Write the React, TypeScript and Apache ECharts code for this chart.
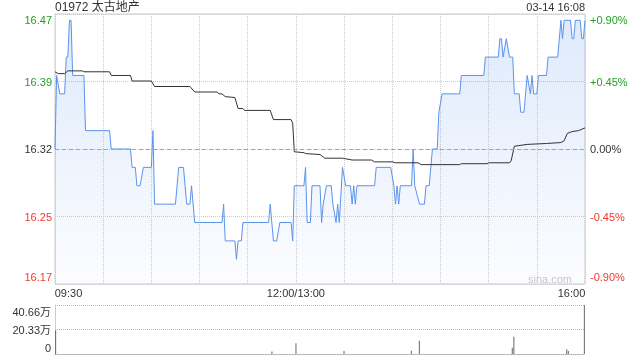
import React, { useEffect, useRef } from 'react';
import * as echarts from 'echarts';

const stockTitle = '01972 太古地产';
const stampText = '03-14 16:08';
const watermark = 'sina.com';
const prevClose = 16.32;
const xTickLabels: Record<number, string> = { 0: '09:30', 150: '12:00/13:00', 330: '16:00' };

const priceMinutes = [
  0, 1, 3, 6, 7, 8, 9, 10, 11, 18, 19, 34, 35, 47, 48, 50, 51, 53, 55, 60, 61, 62, 75, 77, 80, 82, 84, 85, 87,
  104, 105, 106, 112, 113, 114, 116, 117, 133, 134, 136, 138, 140, 147, 148, 149, 155, 156, 157, 159, 160, 165,
  166, 167, 169, 172, 173, 175, 176, 177, 179, 181, 184, 185, 186, 187, 188, 199, 200, 209, 211, 212, 213, 214,
  215, 222, 223, 224, 227, 230, 231, 233, 235, 238, 239, 241, 252, 253, 267, 268, 276, 277, 278, 279, 281, 283,
  285, 286, 289, 290, 292, 293, 294, 296, 297, 298, 300, 301, 306, 307, 313, 315, 316, 317, 321, 322, 323, 324,
  327, 328, 329, 330,
];
const prices = [
  16.32, 16.40, 16.38, 16.38, 16.42, 16.42, 16.46, 16.46, 16.40, 16.40, 16.34, 16.34, 16.32, 16.32, 16.30, 16.30,
  16.28, 16.28, 16.30, 16.30, 16.34, 16.26, 16.26, 16.30, 16.30, 16.26, 16.26, 16.28, 16.24,
  16.24, 16.26, 16.22, 16.22, 16.20, 16.22, 16.22, 16.24, 16.24, 16.26, 16.22, 16.22, 16.24, 16.24, 16.22, 16.28,
  16.28, 16.30, 16.24, 16.24, 16.28, 16.28,
  16.24, 16.26, 16.28, 16.28, 16.26, 16.24, 16.26, 16.24, 16.30, 16.28, 16.28, 16.26, 16.28, 16.26, 16.28, 16.28,
  16.30, 16.30, 16.28, 16.26, 16.28, 16.26,
  16.28, 16.28, 16.32, 16.28, 16.26, 16.26, 16.28, 16.28, 16.32, 16.32, 16.36, 16.38, 16.38, 16.40, 16.40, 16.42,
  16.42, 16.44, 16.44, 16.42, 16.44, 16.42,
  16.42, 16.38, 16.38, 16.36, 16.36, 16.38, 16.40, 16.38, 16.40, 16.38, 16.38, 16.40, 16.40, 16.42, 16.42, 16.46,
  16.44, 16.46, 16.46, 16.44, 16.44, 16.46,
  16.46, 16.44, 16.44, 16.46,
];

const avgMinutes = [
  0, 2, 6, 8, 17, 18, 34, 35, 47, 48, 60, 62, 84, 87, 101, 102, 104, 106, 112, 114, 117, 118, 134, 136, 147, 148,
  149, 155, 156, 165, 168, 179, 185, 197, 199, 210, 212, 226, 228, 252, 253, 269, 270, 283, 284, 286, 294, 306,
  315, 317, 319, 322, 326, 330,
];
const avgPrices = [
  16.404, 16.402, 16.402, 16.405, 16.405, 16.404, 16.404, 16.400, 16.400, 16.394, 16.394, 16.388, 16.388, 16.382,
  16.382, 16.380, 16.380, 16.377, 16.376, 16.364, 16.364, 16.362, 16.362, 16.352, 16.352, 16.348,
  16.317, 16.316, 16.315, 16.314, 16.310, 16.310, 16.308, 16.308, 16.306, 16.306, 16.305, 16.305, 16.303, 16.303,
  16.304, 16.304, 16.305, 16.305, 16.307, 16.323, 16.325, 16.326,
  16.327, 16.329, 16.337, 16.339, 16.340, 16.343,
];

const volMinutes = [0, 135, 150, 180, 222, 227, 285, 286, 319, 320, 330];
const volumes = [198000, 20000, 89000, 25000, 27000, 110000, 52000, 144000, 40000, 25000, 406600];
const volMax = 406600;

const FONT = '"Liberation Sans", Arial, "Noto Sans CJK SC", sans-serif';
const GREEN = '#22a022';
const RED = '#ee3b30';
const DARK = '#333333';

const pct = (p: number) => (p / prevClose - 1) * 100;

function buildRich(padTop: number, padBottom: number) {
  const colors: Record<string, string> = { g: GREEN, k: DARK, r: RED };
  const rich: Record<string, any> = {};
  Object.keys(colors).forEach((c) => {
    rich[c + 't'] = { color: colors[c], fontSize: 11, fontFamily: FONT, padding: [padTop, 0, 0, 0] };
    rich[c + 'm'] = { color: colors[c], fontSize: 11, fontFamily: FONT };
    rich[c + 'b'] = { color: colors[c], fontSize: 11, fontFamily: FONT, padding: [0, 0, padBottom, 0] };
  });
  return rich;
}

function tag(v: number, lo: number, hi: number) {
  const c = v > 1e-6 ? 'g' : v < -1e-6 ? 'r' : 'k';
  const pos = v >= hi - 1e-6 ? 't' : v <= lo + 1e-6 ? 'b' : 'm';
  return c + pos;
}

export default function App() {
  const ref = useRef<HTMLDivElement>(null);

  useEffect(() => {
    if (!ref.current) return;
    const chart = echarts.init(ref.current, undefined, { renderer: 'svg' });

    const priceData = priceMinutes.map((t, i) => [t, pct(prices[i])]);
    const avgData = avgMinutes.map((t, i) => [t, pct(avgPrices[i])]);
    const volData = volMinutes.map((t, i) => [t, volumes[i]]);

    const richY = buildRich(12, 14);
    const volRich = {
      t: { color: DARK, fontSize: 11, fontFamily: FONT, padding: [14, 0, 0, 0] },
      m: { color: DARK, fontSize: 11, fontFamily: FONT },
      b: { color: DARK, fontSize: 11, fontFamily: FONT, padding: [0, 0, 12, 0] },
    };

    chart.setOption({
      animation: false,
      textStyle: { fontFamily: FONT },
      title: [
        {
          text: stockTitle,
          left: 55,
          top: 1,
          padding: 0,
          textStyle: { fontSize: 12, fontWeight: 'normal', color: DARK, fontFamily: FONT },
        },
        {
          text: stampText,
          right: 55,
          top: 1,
          padding: 0,
          textStyle: { fontSize: 11, fontWeight: 'normal', color: DARK, fontFamily: FONT },
        },
      ],
      graphic: [
        {
          type: 'text',
          right: 68,
          top: 273,
          style: { text: watermark, fill: '#c8c8c8', font: '11px "Liberation Sans", Arial, sans-serif' },
          silent: true,
        },
      ],
      grid: [
        { left: 55, right: 55, top: 14, height: 270, show: true, borderColor: '#cccccc', borderWidth: 1 },
        { left: 55, right: 55, top: 305, height: 49 },
      ],
      xAxis: [
        {
          type: 'value',
          gridIndex: 0,
          min: 0,
          max: 330,
          interval: 30,
          axisLine: { show: false },
          axisTick: { show: false },
          splitLine: { show: true, lineStyle: { color: '#cccccc', type: 'dotted', width: 1 } },
          axisLabel: {
            margin: 3,
            color: DARK,
            fontSize: 11,
            fontFamily: FONT,
            formatter: (v: number) => {
              const s = xTickLabels[Math.round(v)];
              if (!s) return '';
              if (v < 1) return '{l|' + s + '}';
              if (v > 329) return '{r|' + s + '}';
              return '{c|' + s + '}';
            },
            rich: {
              l: { color: DARK, fontSize: 11, fontFamily: FONT, padding: [0, 0, 0, 27] },
              r: { color: DARK, fontSize: 11, fontFamily: FONT, padding: [0, 27, 0, 0] },
              c: { color: DARK, fontSize: 11, fontFamily: FONT },
            },
          },
        },
        {
          type: 'value',
          gridIndex: 1,
          min: -0.4,
          max: 330.4,
          axisLine: { show: true, lineStyle: { color: '#aaaaaa', type: 'dotted', width: 1 } },
          axisTick: { show: false },
          splitLine: { show: false },
          axisLabel: { show: false },
        },
      ],
      yAxis: [
        {
          type: 'value',
          gridIndex: 0,
          min: -0.9,
          max: 0.9,
          interval: 0.45,
          axisLine: { show: false },
          axisTick: { show: false },
          splitLine: { show: true, lineStyle: { color: '#cccccc', type: 'dotted', width: 1 } },
          axisLabel: {
            margin: 3,
            formatter: (v: number) => '{' + tag(v, -0.9, 0.9) + '|' + (prevClose * (1 + v / 100)).toFixed(2) + '}',
            rich: richY,
          },
        },
        {
          type: 'value',
          gridIndex: 0,
          position: 'right',
          min: -0.9,
          max: 0.9,
          interval: 0.45,
          axisLine: { show: false },
          axisTick: { show: false },
          splitLine: { show: false },
          axisLabel: {
            margin: 5,
            formatter: (v: number) =>
              '{' + tag(v, -0.9, 0.9) + '|' + (v > 1e-6 ? '+' : '') + (Math.abs(v) < 1e-6 ? 0 : v).toFixed(2) + '%}',
            rich: richY,
          },
        },
        {
          type: 'value',
          gridIndex: 1,
          min: 0,
          max: volMax,
          interval: volMax / 2,
          axisLine: { show: true, lineStyle: { color: '#cccccc', width: 1 } },
          axisTick: { show: false },
          splitLine: { show: true, lineStyle: { color: '#bbbbbb', type: 'dotted', width: 1 } },
          axisLabel: {
            margin: 4,
            formatter: (v: number) => {
              const pos = v >= volMax - 1 ? 't' : v <= 0 ? 'b' : 'm';
              const s = v <= 0 ? '0' : (v / 10000).toFixed(2) + '万';
              return '{' + pos + '|' + s + '}';
            },
            rich: volRich,
          },
        },
      ],
      series: [
        {
          name: 'price',
          type: 'line',
          xAxisIndex: 0,
          yAxisIndex: 0,
          data: priceData,
          showSymbol: false,
          symbol: 'none',
          lineStyle: { color: '#5b93ec', width: 1 },
          areaStyle: {
            origin: 'start',
            color: new echarts.graphic.LinearGradient(0, 0, 0, 1, [
              { offset: 0, color: 'rgba(91,147,236,0.28)' },
              { offset: 1, color: 'rgba(91,147,236,0.03)' },
            ]),
          },
          markLine: {
            silent: true,
            symbol: ['none', 'none'],
            label: { show: false },
            lineStyle: { color: '#f28c48', type: [4, 3], width: 1, opacity: 1 },
            data: [{ yAxis: 0 }],
            z: 10,
          },
          z: 3,
        },
        {
          name: 'avg',
          type: 'line',
          xAxisIndex: 0,
          yAxisIndex: 0,
          data: avgData,
          showSymbol: false,
          symbol: 'none',
          lineStyle: { color: '#333333', width: 1 },
          z: 4,
        },
        {
          name: 'volume',
          type: 'bar',
          xAxisIndex: 1,
          yAxisIndex: 2,
          data: volData,
          barWidth: 1,
          clip: false,
          itemStyle: { color: '#666666' },
          z: 5,
        },
      ],
    });

    return () => chart.dispose();
  }, []);

  return <div ref={ref} style={{ position: 'fixed', left: 0, top: 0, width: 640, height: 360 }} />;
}
